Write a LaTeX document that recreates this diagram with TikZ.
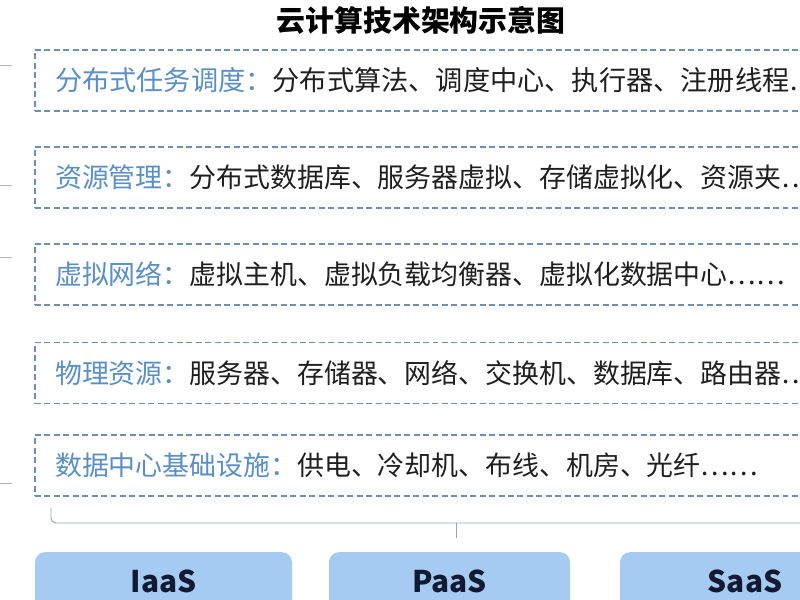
\documentclass[tikz,border=0pt]{standalone}
\usepackage{fontspec}
\setmainfont{Noto Sans CJK SC}
\usepackage{tikz}
\usetikzlibrary{positioning,shapes}
\definecolor{tagblue}{HTML}{5A8FC5}
\definecolor{dashblue}{HTML}{6F8FAE}
\definecolor{cellblue}{HTML}{A6CBF3}
\definecolor{cellink}{HTML}{101B33}
\definecolor{bracegray}{HTML}{93A5B6}
\newcommand{\tag}[1]{\textcolor{tagblue}{#1}}

\begin{document}
\begin{tikzpicture}
      \tikzstyle{every node}=[inner sep=0pt, text=black!88]
      \tikzstyle{layer}=[draw=dashblue, line width=1.6pt, dash pattern=on 6pt off 3.5pt, minimum width=796bp, minimum height=61bp, anchor=west]
      \tikzstyle{item}=[font=\fontsize{27}{30}\selectfont, anchor=west]
      \tikzstyle{cell}=[fill=cellblue, rounded corners=10bp, minimum height=58bp, anchor=north, font=\fontsize{30}{34}\selectfont\bfseries, text=cellink]
      \useasboundingbox (0bp,0bp) rectangle (800bp,600bp);
      \clip (0bp,0bp) rectangle (800bp,600bp);
      \fill[white] (0bp,0bp) rectangle (800bp,600bp);
      %%
  \node (title) at (421bp,580bp) [font=\fontsize{29}{34}\selectfont\bfseries, text=black] {云计算技术架构示意图};
  \node (l1) at (34bp,519.5bp) [layer] {};
  \node (l2) at (34bp,422.5bp) [layer] {};
  \node (l3) at (34bp,325.5bp) [layer] {};
  \node (l4) at (34bp,227bp) [layer] {};
  \node (l5) at (34bp,134.5bp) [layer] {};
  \node (t1) [item, font=\fontsize{27.3}{30}\selectfont, right=21bp of l1.west] {\tag{分布式任务调度：}分布式算法、调度中心、执行器、注册线程……};
  \node (t2) [item, right=21bp of l2.west] {\tag{资源管理：}分布式数据库、服务器虚拟、存储虚拟化、资源夹……};
  \node (t3) [item, right=21bp of l3.west] {\tag{虚拟网络：}虚拟主机、虚拟负载均衡器、虚拟化数据中心……};
  \node (t4) [item, right=21bp of l4.west] {\tag{物理资源：}服务器、存储器、网络、交换机、数据库、路由器……};
  \node (t5) [item, right=21bp of l5.west] {\tag{数据中心基础设施：}供电、冷却机、布线、机房、光纤……};
  \coordinate (b1) at (51bp,92bp);
  \coordinate (b2) at (830bp,77bp);
  \coordinate (bt) at (456bp,62bp);
  \draw [bracegray, line width=1pt, rounded corners=5bp] (b1) |- (b2);
  \draw [bracegray, line width=1pt] (bt) -- (bt |- b2);
  \node (iaas) at (163.5bp,48bp) [cell, minimum width=257bp] {IaaS};
  \node (paas) at (449.5bp,48bp) [cell, minimum width=241bp] {PaaS};
  \node (saas) at (745bp,48bp) [cell, minimum width=250bp] {SaaS};
  %% cut-off marks at the left edge
  \foreach \y in {535,415,343,117}
    \draw [black!30, line width=0.8pt] (0bp,\y bp) -- (12bp,\y bp);
%

    \end{tikzpicture}
\end{document}
